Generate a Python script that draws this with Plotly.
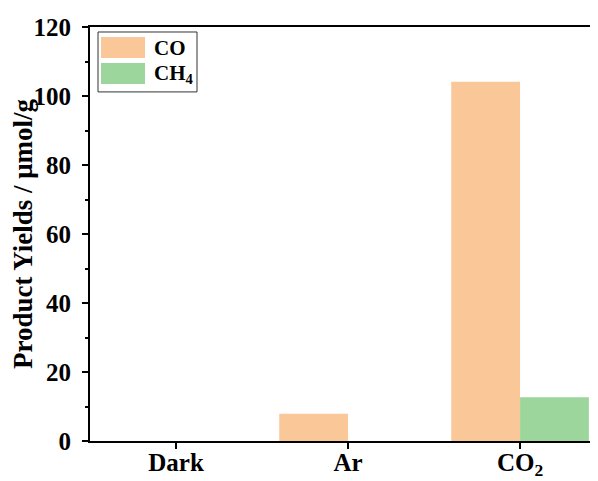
import plotly.graph_objects as go

categories = ["Dark", "Ar", "CO<sub>2</sub>"]
series_names = ["CO", "CH<sub>4</sub>"]
co_values = [0, 7.9, 104.1]
ch4_values = [0, 0, 12.7]
colors = ["#FAC898", "#9DD69C"]

# page body has an 8px default margin; size figure to fit the 598x481 window
OFF = 8
W, H = 598 - OFF, 481 - OFF
L, R, T, B = 90 - OFF, 0, 27 - OFF, 481 - 441.5
FONT = "Liberation Serif"

fig = go.Figure()
for name, vals, col in zip(series_names, [co_values, ch4_values], colors):
    fig.add_trace(go.Bar(x=categories, y=vals, name=name, marker=dict(color=col, line=dict(width=0)),
                         showlegend=False))

pw = W - L - R
ph = H - T - B
def px(x):
    return (x - OFF - L) / pw
def py(y):
    return (H - B - (y - OFF)) / ph

# manual legend
shapes = [dict(type="rect", xref="paper", yref="paper", x0=px(98), x1=px(197), y0=py(92), y1=py(32),
               line=dict(color="#333333", width=1), fillcolor="white", layer="above")]
annotations = []
for i, (name, col) in enumerate(zip(series_names, colors)):
    y0 = 37 + i * 26
    shapes.append(dict(type="rect", xref="paper", yref="paper", x0=px(101), x1=px(145),
                       y0=py(y0 + 21), y1=py(y0), line=dict(width=0), fillcolor=col, layer="above"))
    annotations.append(dict(xref="paper", yref="paper", x=px(152), y=py(y0 + 11), text="<b>%s</b>" % name,
                            showarrow=False, xanchor="left", yanchor="middle",
                            font=dict(family=FONT, size=21, color="black")))

fig.update_layout(
    width=W, height=H,
    margin=dict(l=L, r=R, t=T, b=B, autoexpand=False),
    plot_bgcolor="white", paper_bgcolor="white",
    barmode="group", bargap=0.2, bargroupgap=0,
    font=dict(family=FONT, size=24, color="black"),
    shapes=shapes, annotations=annotations,
    xaxis=dict(range=[-0.5, 2.453], showline=True, linecolor="black", linewidth=2, mirror=True,
               automargin=False, ticklabelstandoff=-8,
               ticks="outside", ticklen=6, tickwidth=2, tickcolor="black", showgrid=False,
               tickfont=dict(family=FONT, size=25, color="black", weight="bold")),
    yaxis=dict(range=[0, 120], dtick=20, showline=True, linecolor="black", linewidth=2,
               automargin=False, ticklabelstandoff=6,
               ticks="outside", ticklen=6, tickwidth=2, tickcolor="black", showgrid=False, zeroline=False,
               minor=dict(dtick=10, ticks="outside", ticklen=3, tickwidth=2, tickcolor="black", showgrid=False),
               tickfont=dict(family=FONT, size=25, color="black", weight="bold"),
               title=dict(text="<b>Product Yields / μmol/g</b>", standoff=1,
                          font=dict(family=FONT, size=27, color="black"))),
)

fig.write_html("out.html")
